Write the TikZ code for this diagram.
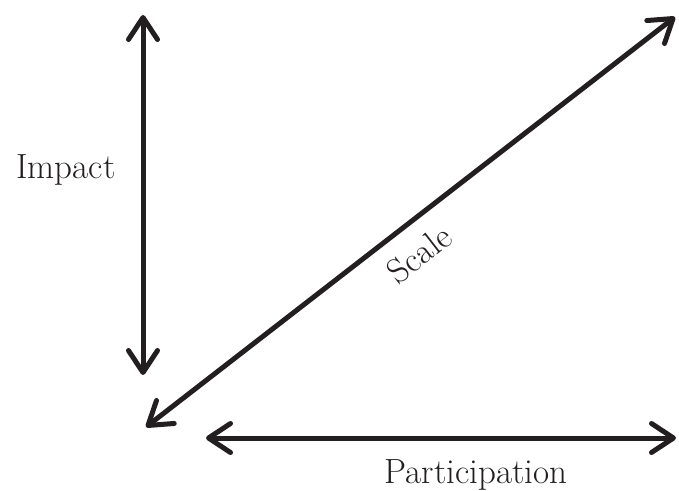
\documentclass[tikz,border=0pt]{standalone}
\usepackage{tikz}
\usetikzlibrary{arrows.meta}

\definecolor{ink}{RGB}{35,31,32}

\tikzset{
  barb/.tip={Straight Barb[length=22pt,width=29pt,line cap=round,line join=round]},
  axis/.style={line width=5pt,draw=ink,barb-barb},
  lab/.style={font=\fontsize{35}{42}\selectfont,text=ink,anchor=base}
}

\begin{document}
\begin{tikzpicture}[x=1pt,y=-1pt]
  \useasboundingbox (0,0) rectangle (679,490);
  % end points of the three axes
  \coordinate (impTop) at (143,15);
  \coordinate (impBot) at (143,375);
  \coordinate (scaLow) at (146,427);
  \coordinate (scaHigh) at (675,17);
  \coordinate (parL) at (206,438);
  \coordinate (parR) at (676,438);
  \draw[axis] (impTop) -- (impBot);
  \draw[axis] (scaLow) -- (scaHigh);
  \draw[axis] (parL) -- (parR);
  % labels
  \node[lab] (impact) at (66,178) {Impact};
  \node[lab,anchor=center,rotate=37.8] (scale) at (419,254) {Scale};
  \node[lab] (part) at (476,483) {Participation};
\end{tikzpicture}
\end{document}
